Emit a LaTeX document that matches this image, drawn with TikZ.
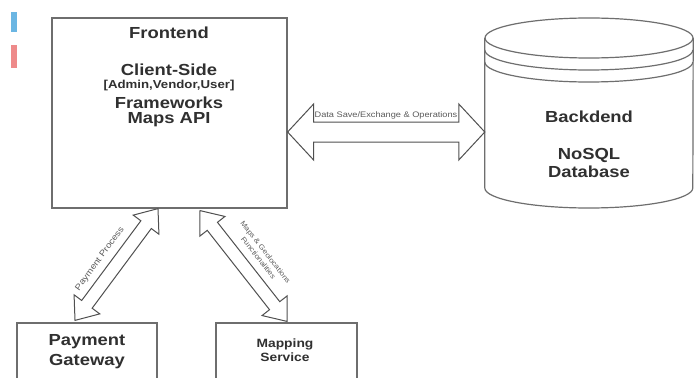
\documentclass[tikz,border=0pt]{standalone}
\usepackage{fontspec}
\setmainfont{Liberation Sans}[FakeStretch=1.15]
\usetikzlibrary{calc}
\definecolor{bordergray}{HTML}{6E6E6E}
\definecolor{txtgray}{HTML}{303030}
\definecolor{lblgray}{HTML}{5A5A5A}
\definecolor{arrgray}{HTML}{505050}
\definecolor{markblue}{HTML}{6BB6E3}
\definecolor{markred}{HTML}{EE8A8A}
\newcommand\fatarw[5]{%
  \coordinate (ha) at ($(#1)!#5!(#2)$);
  \coordinate (hb) at ($(#2)!#5!(#1)$);
  \draw[fatarrow] (#1) -- ($(ha)!#4!90:(#2)$) -- ($(ha)!#3!90:(#2)$)
    -- ($(hb)!#3!-90:(#1)$) -- ($(hb)!#4!-90:(#1)$) -- (#2)
    -- ($(hb)!#4!90:(#1)$) -- ($(hb)!#3!90:(#1)$)
    -- ($(ha)!#3!-90:(#2)$) -- ($(ha)!#4!-90:(#2)$) -- cycle;}
\begin{document}
\begin{tikzpicture}[x=1pt,y=-1pt,
  box/.style={draw=bordergray, line width=1.2pt, fill=white, inner sep=0pt},
  ttl/.style={font=\bfseries\fontsize{16}{18}\selectfont, text=txtgray, inner sep=0pt},
  sml/.style={font=\bfseries\fontsize{12}{13}\selectfont, text=txtgray, inner sep=0pt},
  fatarrow/.style={draw=arrgray, line width=1pt, fill=white, line join=miter},
  lbl/.style={font=\fontsize{8}{9.5}\selectfont, text=lblgray, inner sep=0pt},
  cyl/.style={draw=bordergray, line width=1.2pt}]
\clip (0,0) rectangle (695,377);
\fill[white] (0,0) rectangle (695,377);
% left edge marks
\fill[markblue] (11,12) rectangle (17,32);
\fill[markred] (11,45) rectangle (17,68);
% frontend
\node[box, minimum width=235pt, minimum height=190pt] (fe) at (169.5,113) {};
\node[ttl] (fe1) at (169,33) {Frontend};
\node[ttl] (fe2) at (169,70) {Client-Side};
\node[ttl, font=\bfseries\fontsize{11.5}{13}\selectfont] (fe3) at (169,86) {[Admin,Vendor,User]};
\node[ttl] (fe4) at (169,103) {Frameworks};
\node[ttl] (fe5) at (169,120) {Maps API};
% backend cylinder
\node[minimum width=208pt, minimum height=170pt, inner sep=0pt] (db) at (589,113) {};
\draw[cyl, fill=white] (db.west |- 0,38) -- (db.west |- 0,188)
  arc[start angle=180, end angle=360, x radius=104pt, y radius=20pt]
  -- (db.east |- 0,38);
\draw[cyl] (589,38) ellipse[x radius=104pt, y radius=20pt];
\draw[cyl] (db.west |- 0,50) arc[start angle=180, end angle=360, x radius=104pt, y radius=20pt];
\draw[cyl] (db.west |- 0,62) arc[start angle=180, end angle=360, x radius=104pt, y radius=20pt];
\node[ttl] (db1) at (589,117) {Backdend};
\node[ttl] (db2) at (589,155) {NoSQL};
\node[ttl] (db3) at (589,172) {Database};
% payment gateway
\node[box, minimum width=140pt, minimum height=70pt] (pg) at (87,358) {};
\node[ttl] (pg1) at (87,342) {Payment};
\node[ttl] (pg2) at (87,362) {Gateway};
% mapping service
\node[box, minimum width=141pt, minimum height=70pt] (ms) at (286.5,358) {};
\node[sml] (ms1) at (285,344) {Mapping};
\node[sml] (ms2) at (285,357) {Service};
% arrows
\coordinate (dA) at (fe.east |- 0,132);
\coordinate (dB) at (db.west |- 0,132);
\fatarw{dA}{dB}{10pt}{28pt}{26pt}
\node[lbl] (dl) at (386,115) {Data Save/Exchange \& Operations};
\coordinate (pA) at (fe.south -| 158,0);
\coordinate (pB) at ($(pg.north -| 75,0)+(0,-2)$);
\fatarw{pA}{pB}{6.5pt}{16pt}{20pt}
\node[lbl, font=\fontsize{8.5}{10}\selectfont, rotate=54] (pl) at (100,259) {Payment Process};
\coordinate (mA) at ($(fe.south -| 200,0)+(0,2)$);
\coordinate (mB) at ($(ms.north -| 287,0)+(0,-1)$);
\fatarw{mA}{mB}{6.5pt}{16pt}{20pt}
\node[lbl, font=\fontsize{7}{9}\selectfont, align=center, rotate=-52] (ml) at (262,255) {Maps \& Geolocations\\Functionalities};
\end{tikzpicture}
\end{document}
